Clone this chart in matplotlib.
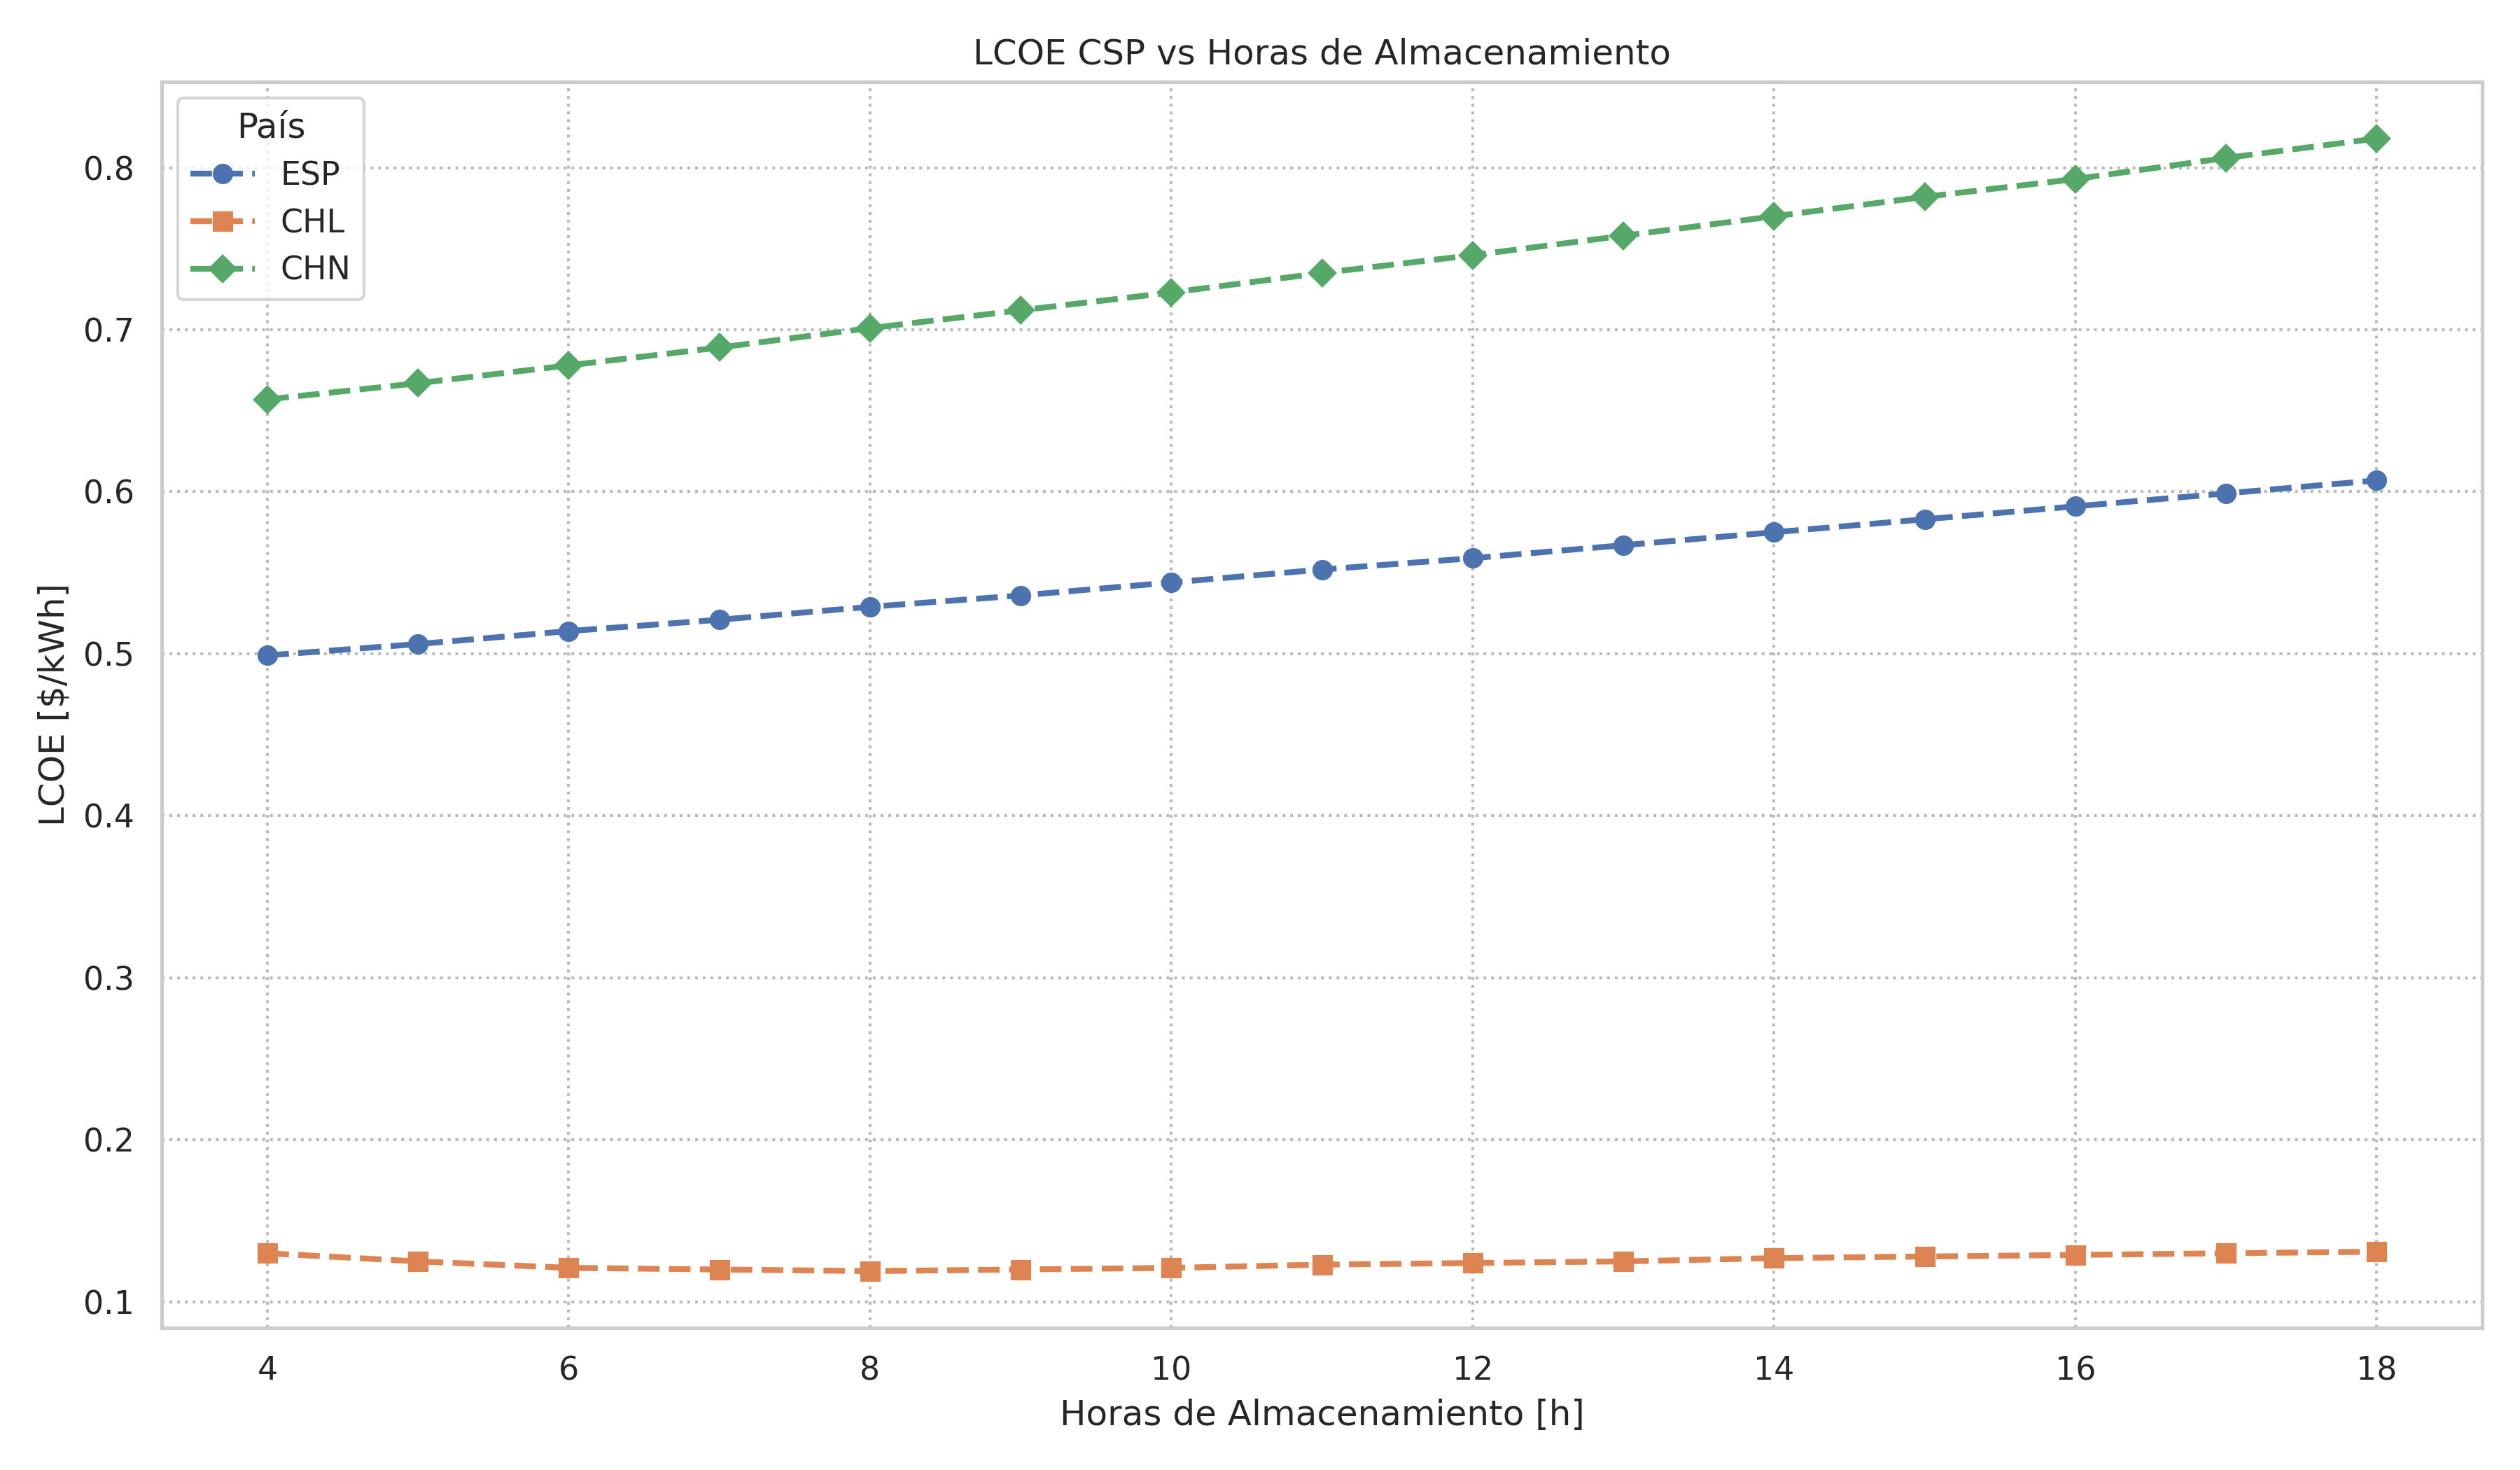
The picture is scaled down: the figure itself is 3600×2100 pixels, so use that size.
import matplotlib
matplotlib.use('Agg')
import matplotlib.pyplot as plt
import seaborn as sns

horas = [4, 5, 6, 7, 8, 9, 10, 11, 12, 13, 14, 15, 16, 17, 18]
esp = [0.499, 0.506, 0.514, 0.521, 0.529, 0.536, 0.544, 0.552, 0.559, 0.567, 0.575, 0.583, 0.591, 0.599, 0.607]
chl = [0.130, 0.125, 0.121, 0.120, 0.119, 0.120, 0.121, 0.123, 0.124, 0.125, 0.127, 0.128, 0.129, 0.130, 0.131]
chn = [0.657, 0.667, 0.678, 0.689, 0.701, 0.712, 0.723, 0.735, 0.746, 0.758, 0.770, 0.782, 0.793, 0.806, 0.818]

sns.set_theme(style='whitegrid')
plt.rcParams['font.family'] = ['DejaVu Sans']
colores = sns.color_palette('deep')

fig, ax = plt.subplots(figsize=(12, 7), dpi=300)
ax.plot(horas, esp, '--', marker='o', color=colores[0], lw=2, label='ESP')
ax.plot(horas, chl, '--', marker='s', color=colores[1], lw=2, label='CHL')
ax.plot(horas, chn, '--', marker='D', color=colores[2], lw=2, label='CHN')

ax.grid(True, linestyle=':', color='#bbbbbb')
ax.set_title('LCOE CSP vs Horas de Almacenamiento')
ax.set_xlabel('Horas de Almacenamiento [h]')
ax.set_ylabel('LCOE [$/kWh]')
ax.legend(title='País', loc='upper left')

plt.tight_layout()
plt.savefig('out.png', dpi=300)
